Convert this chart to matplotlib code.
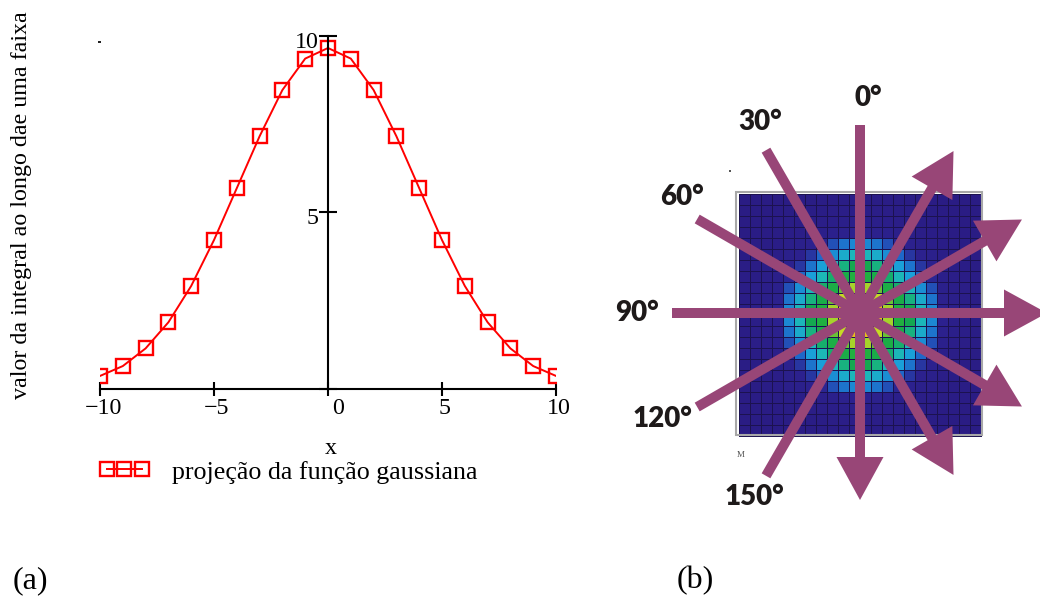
import numpy as np
import matplotlib
matplotlib.use('Agg')
import matplotlib.pyplot as plt
from matplotlib.colors import LinearSegmentedColormap
from matplotlib.patches import Polygon, Rectangle
from matplotlib.transforms import ScaledTranslation

# ---------------- data ----------------
x_vals = list(range(-10, 11))
projection = [0.37, 0.65, 1.15, 1.89, 2.92, 4.22, 5.69, 7.16, 8.47, 9.36, 9.66,
              9.36, 8.47, 7.16, 5.69, 4.22, 2.92, 1.89, 1.15, 0.65, 0.37]
x_ticks = [-10, -5, 0, 5, 10]
x_ticklabels = ['\u221210', '\u22125', '0', '5', '10']
y_ticks = [0, 5, 10]
y_ticklabels = ['', '5', '10']
heat_half_profile = [1.0, 0.9, 0.76, 0.62, 0.5, 0.38, 0.28, 0.15, 0.09, 0.06, 0.04]
angles_deg = [0, 30, 60, 90, 120, 150]
angle_labels = ['0°', '30°', '60°', '90°', '120°', '150°']
legend_label = 'projeção da função gaussiana'
ylabel = 'valor da integral ao longo dae uma faixa'
xlabel = 'x'
panel_labels = ['(a)', '(b)']

# ---------------- figure ----------------
W, H = 1040, 601
fig = plt.figure(figsize=(W / 100, H / 100), dpi=100)
fig.patch.set_facecolor('white')


def fx(x):
    return x / W


def fy(y):
    return 1 - y / H


serif = ['Liberation Serif', 'DejaVu Serif']
fs = 17.3

# ---------------- left panel ----------------
L, R, T, B = 100, 556, 36, 389
ax = fig.add_axes([fx(L), fy(B), (R - L) / W, (B - T) / H])
ax.set_xlim(-10, 10)
ax.set_ylim(0, 10)
ax.patch.set_alpha(0)
for s in ['top', 'right']:
    ax.spines[s].set_visible(False)
ax.spines['left'].set_position(('data', 0))
ax.spines['bottom'].set_position(('data', 0))
for s in ['left', 'bottom']:
    ax.spines[s].set_linewidth(1.5)

ax.plot(x_vals, projection, color='red', lw=1.4, marker='s', ms=9.6,
        mfc='none', mec='red', mew=1.7, label=legend_label)

ax.set_xticks(x_ticks)
ax.set_xticklabels(x_ticklabels, fontfamily=serif, fontsize=fs)
ax.set_yticks(y_ticks)
ax.set_yticklabels(y_ticklabels, fontfamily=serif, fontsize=fs)
ax.tick_params(axis='x', direction='inout', length=10, width=1.5, pad=1.5)
ax.tick_params(axis='y', direction='inout', length=13, width=1.5, pad=0.5)

for tk, v in zip(ax.xaxis.get_major_ticks(), x_ticks):
    dx = 10 if v == 0 else 3
    tk.label1.set_transform(tk.label1.get_transform() +
                            ScaledTranslation(dx / 100, 0, fig.dpi_scale_trans))
for tk in ax.yaxis.get_major_ticks():
    tk.label1.set_transform(tk.label1.get_transform() +
                            ScaledTranslation(0, -4 / 100, fig.dpi_scale_trans))

ax.legend(loc='center left', bbox_to_anchor=(fx(99), fy(472)),
          bbox_transform=fig.transFigure, frameon=False, numpoints=3,
          handlelength=1.95, handletextpad=0.85, borderpad=0, borderaxespad=0,
          prop={'family': serif, 'size': 18.7})

fig.text(fx(22), fy(205), ylabel, rotation=90, ha='center', va='center',
         fontfamily=serif, fontsize=fs)
fig.text(fx(331), fy(448), xlabel, ha='center', va='center',
         fontfamily=serif, fontsize=fs)
fig.text(fx(30), fy(581), panel_labels[0], ha='center', va='center',
         fontfamily=serif, fontsize=23)
fig.text(fx(695), fy(581), panel_labels[1], ha='center', va='center',
         fontfamily=serif, fontsize=23)
fig.patches.append(Rectangle((fx(97.5), fy(43)), 3 / W, 2 / H, fc='#222222',
                             ec='none', transform=fig.transFigure, figure=fig))

# ---------------- right panel ----------------
axr = fig.add_axes([fx(600), 0, (W - 600) / W, 1])
axr.set_xlim(600, W)
axr.set_ylim(H, 0)
axr.axis('off')

cmap = LinearSegmentedColormap.from_list('heat', [
    (0.00, '#2a1c84'), (0.17, '#2c2290'), (0.23, '#1e64c8'),
    (0.31, '#1aa0d8'), (0.40, '#1cbcb0'), (0.50, '#14a850'),
    (0.62, '#20b040'), (0.72, '#8ccc30'), (0.84, '#d8e020'),
    (0.95, '#f2a818'), (1.00, '#e86010')])

half = np.array(heat_half_profile)
prof = np.concatenate([half[::-1], half])
grid = np.outer(prof, prof)
n = len(prof)
xe = np.linspace(739, 981, n + 1)
ye = np.linspace(192, 434, n + 1) + 1.5
axr.pcolormesh(xe, ye, grid, cmap=cmap, vmin=0, vmax=1,
               edgecolors='#1c1250', linewidth=0.5)
axr.add_patch(Rectangle((736, 192), 246, 243, fill=False, ec='#a8a8a8', lw=1.5))
axr.text(741, 455, 'M', fontfamily=serif, fontsize=6.5, color='#555555',
         ha='center', va='center')
axr.add_patch(Rectangle((729, 170), 2, 1.5, fc='#555555', ec='none'))

pc = '#984677'
C = np.array([860.0, 313.0])
label_offsets = [(8, 0), (7.5, -5), (8, -8.5), (-8, 0), (-11, -1.5), (1.5, -2)]
for ang, lab, off in zip(angles_deg, angle_labels, label_offsets):
    t = np.deg2rad(ang)
    d = np.array([np.sin(t), np.cos(t)])
    nv = np.array([d[1], -d[0]])
    start = C - 188 * d
    tip = C + 187 * d
    base = tip - 43 * d
    lend = base + 2 * d
    axr.plot([start[0], lend[0]], [start[1], lend[1]], color=pc, lw=7.2,
             solid_capstyle='butt', clip_on=False)
    axr.add_patch(Polygon([tip, base + 23.5 * nv, base - 23.5 * nv],
                          closed=True, fc=pc, ec='none', clip_on=False))
    lp = C - 215 * d + np.array(off)
    axr.text(lp[0], lp[1], lab, ha='center', va='center',
             fontfamily=['Lato', 'DejaVu Sans'], fontweight='heavy',
             fontsize=20, color='#1e1a1a')

fig.savefig('out.png', dpi=100, facecolor='white')
